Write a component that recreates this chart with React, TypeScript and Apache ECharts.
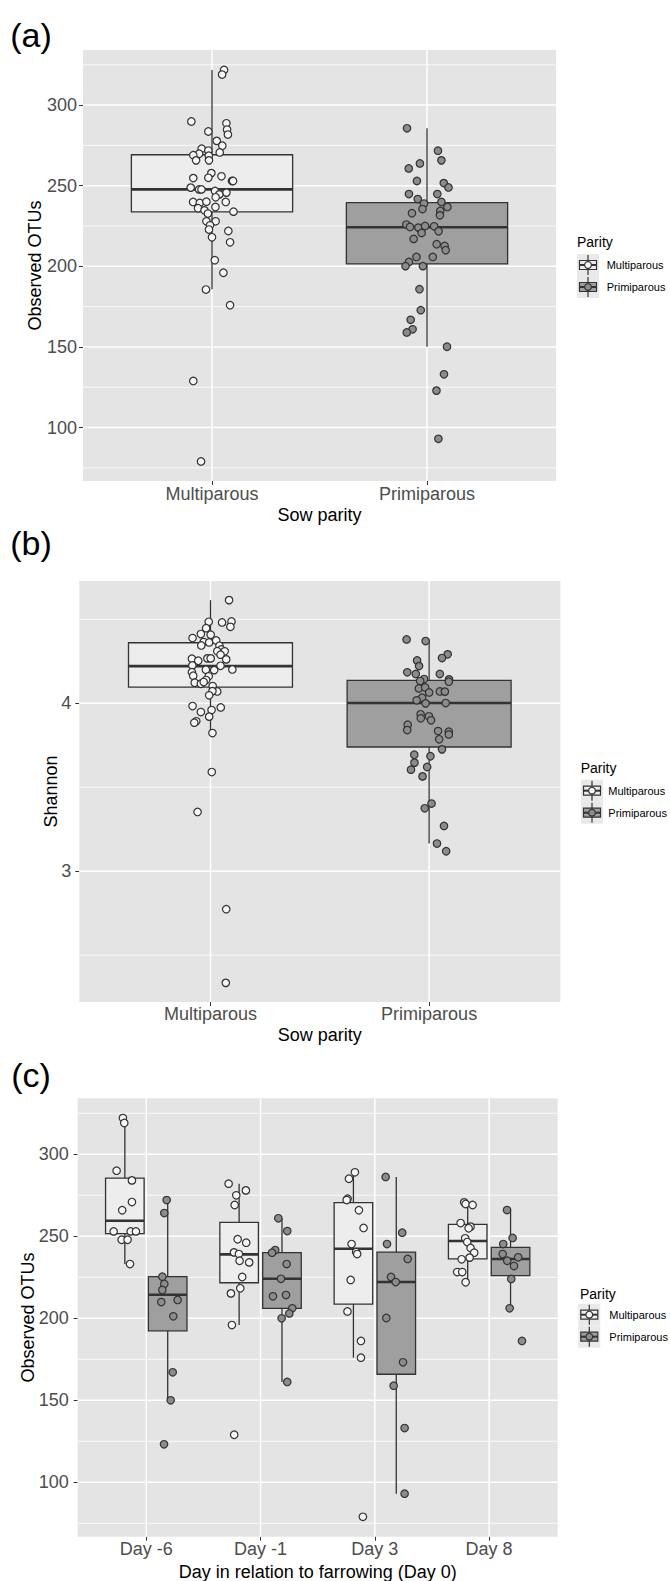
import React, { useEffect, useRef } from 'react';
import * as echarts from 'echarts';

// ---------- categories & ticks ----------
const parityCategories = ['Multiparous', 'Primiparous'];
const dayCategories = ['Day -6', 'Day -1', 'Day 3', 'Day 8'];
const otuTicks = [100, 150, 200, 250, 300];
const otuMinorLines = [75, 125, 175, 225, 275, 325];
const shannonTicks = [3, 4];
const shannonMinorLines = [2.5, 3.5, 4.5];

// ---------- panel (a): observed OTUs by parity ----------
// box stats: [lower whisker, Q1, median, Q3, upper whisker]
const otuBoxMulti = [185.8, 233.7, 247.7, 269.2, 321.8];
const otuBoxPrimi = [150.1, 201.5, 224.2, 239.5, 285.6];
const otuMulti = [321.8, 318.9, 289.8, 288.7, 284.8, 283.6, 281.7, 277.8, 274.8, 272.9, 271.8, 270.6, 269.8, 268.9, 268.6, 265.7, 265.7, 257.8, 254.9, 254.7, 255.8, 252.9, 252.9, 248.8, 247.7, 247.7, 246.7, 245.7, 244.6, 242.8, 239.9, 239.3, 240.1, 239.9, 236.0, 236.8, 234.7, 233.9, 232.7, 227.9, 227.9, 225.4, 222.8, 221.9, 218.0, 214.9, 203.8, 196.0, 185.6, 175.9, 128.9, 79.0];
const otuMultiJitter = [0.056, 0.047, -0.096, 0.067, 0.070, -0.017, 0.074, 0.022, 0.048, -0.048, -0.017, 0.036, -0.060, -0.087, -0.015, -0.074, -0.014, -0.003, -0.017, -0.087, 0.044, 0.093, 0.098, -0.099, -0.060, -0.049, 0.014, 0.067, 0.034, 0.017, -0.088, -0.057, -0.026, 0.064, -0.065, 0.016, -0.035, 0.100, -0.019, -0.026, 0.017, -0.009, -0.014, 0.076, 0, 0.084, 0.013, 0.053, -0.028, 0.084, -0.087, -0.051];
const otuPrimi = [285.6, 271.7, 265.7, 263.8, 260.7, 252.9, 251.6, 248.9, 244.8, 244.8, 241.7, 239.9, 238.9, 236.8, 235.5, 234.3, 232.9, 231.6, 225.9, 224.4, 224.0, 225.0, 224.8, 220.7, 221.7, 217.0, 213.7, 212.6, 210.0, 205.8, 205.8, 202.7, 200.1, 200.1, 185.8, 172.8, 166.8, 160.9, 159.0, 150.1, 133.0, 122.9, 93.0];
const otuPrimiJitter = [-0.093, 0.051, 0.067, -0.033, -0.085, -0.047, 0.078, 0.100, -0.084, 0.048, -0.043, 0.067, -0.014, 0.095, -0.021, 0.062, -0.070, 0.060, -0.096, -0.079, -0.040, -0.009, 0.033, -0.025, 0.054, -0.062, 0.045, 0.082, 0.087, -0.049, 0.027, -0.084, -0.100, -0.019, -0.035, -0.029, -0.076, -0.067, -0.094, 0.093, 0.079, 0.044, 0.053];

// ---------- panel (b): Shannon by parity ----------
const shBoxMulti = [3.823, 4.097, 4.222, 4.361, 4.615];
const shBoxPrimi = [3.165, 3.740, 4.002, 4.137, 4.381];
const shMulti = [4.615, 4.486, 4.482, 4.488, 4.456, 4.448, 4.413, 4.409, 4.389, 4.365, 4.363, 4.375, 4.345, 4.343, 4.321, 4.311, 4.310, 4.290, 4.266, 4.254, 4.268, 4.268, 4.262, 4.226, 4.224, 4.200, 4.198, 4.202, 4.186, 4.165, 4.161, 4.139, 4.123, 4.117, 4.127, 4.103, 4.071, 4.073, 4.048, 3.984, 3.976, 3.960, 3.948, 3.921, 3.893, 3.885, 3.823, 3.591, 3.353, 2.774, 2.335];
const shMultiJitter = [0.085, -0.008, 0.053, 0.096, 0.091, -0.020, -0.044, 0.001, -0.082, -0.031, -0.006, 0.026, -0.042, 0.041, 0.049, 0.031, 0.065, 0.046, -0.085, -0.056, -0.014, 0.001, 0.072, -0.083, 0.046, -0.021, 0.017, 0.100, -0.085, -0.079, -0.008, -0.020, -0.072, -0.044, -0.031, 0.010, 0.031, 0.009, -0.006, -0.082, 0.047, 0.005, -0.044, -0.006, -0.065, -0.074, 0.009, 0.006, -0.059, 0.072, 0.070];
const shPrimi = [4.381, 4.371, 4.292, 4.270, 4.256, 4.222, 4.185, 4.175, 4.175, 4.143, 4.145, 4.133, 4.129, 4.089, 4.095, 4.065, 4.071, 4.070, 4.034, 4.018, 4.000, 4.002, 3.935, 3.911, 3.923, 3.899, 3.873, 3.841, 3.835, 3.831, 3.815, 3.786, 3.726, 3.694, 3.685, 3.647, 3.621, 3.605, 3.565, 3.403, 3.375, 3.270, 3.165, 3.119];
const shPrimiJitter = [-0.103, -0.016, 0.085, 0.059, -0.055, -0.046, -0.100, -0.061, 0.049, 0.091, -0.023, -0.041, 0.090, -0.047, -0.018, 0, 0.049, 0.072, -0.032, -0.057, -0.016, 0.076, -0.039, -0.038, -0.001, 0.009, -0.098, -0.100, 0.041, 0.090, 0.090, 0.046, 0.059, -0.068, 0.006, -0.067, -0.009, -0.083, -0.030, 0.011, -0.020, 0.068, 0.036, 0.078];

// ---------- panel (c): observed OTUs by day and parity ----------
const dayBoxMulti = [
  [233.1, 251.6, 259.5, 285.5, 322.1],
  [196.0, 221.7, 239.0, 258.5, 282.1],
  [176.0, 208.7, 242.4, 270.5, 289.0],
  [222.0, 236.3, 247.1, 257.3, 270.7],
];
const dayBoxPrimi = [
  [150.0, 192.4, 214.4, 225.4, 272.1],
  [161.2, 206.1, 224.1, 240.0, 261.0],
  [93.1, 165.9, 222.1, 240.4, 286.2],
  [206.1, 226.0, 236.2, 243.3, 266.0],
];
const dayMulti = [
  [322.1, 319.1, 290.0, 284.1, 270.9, 265.9, 253.0, 253.0, 253.0, 247.9, 247.9, 233.1],
  [282.1, 278.0, 275.0, 269.1, 248.2, 246.1, 240.2, 239.2, 235.1, 234.1, 225.2, 218.3, 215.2, 195.9, 129.0],
  [289.0, 285.1, 272.9, 272.1, 265.9, 255.1, 245.3, 240.4, 239.2, 223.4, 204.2, 186.2, 176.0, 79.0],
  [270.7, 269.7, 269.1, 258.1, 255.9, 254.9, 248.8, 246.5, 242.9, 240.0, 237.0, 236.0, 228.2, 228.2, 222.0],
];
const dayMultiJitter = [
  [-0.017, -0.005, -0.072, 0.062, 0.062, -0.023, -0.098, 0.051, 0.097, -0.028, 0.024, 0.045],
  [-0.092, 0.059, -0.025, -0.039, -0.013, 0.062, -0.045, -0.002, 0.004, 0.088, 0.027, 0.010, -0.072, -0.063, -0.043],
  [0.013, -0.039, -0.051, -0.059, 0.048, 0.089, -0.016, 0.024, 0.033, -0.024, -0.052, 0.066, 0.066, 0.083],
  [-0.031, -0.018, 0.043, -0.062, 0.025, 0.008, -0.022, -0.004, 0.025, 0.057, 0.017, -0.053, -0.092, -0.048, -0.018],
];
const dayPrimi = [
  [272.1, 264.2, 225.4, 220.9, 217.3, 211.2, 209.9, 201.2, 167.1, 150.0, 123.2],
  [261.0, 253.2, 241.6, 240.0, 233.1, 224.1, 213.4, 214.2, 206.1, 203.0, 200.0, 161.2],
  [286.2, 252.2, 245.3, 236.2, 225.2, 222.1, 200.2, 173.2, 158.9, 133.1, 93.1],
  [266.0, 249.0, 245.3, 239.2, 237.2, 235.1, 231.9, 224.0, 206.1, 186.2],
];
const dayPrimiJitter = [
  [-0.009, -0.030, -0.047, -0.030, -0.047, 0.087, -0.056, 0.049, 0.044, 0.026, -0.032],
  [-0.032, 0.046, -0.059, -0.087, 0.041, -0.009, -0.079, 0.035, 0.090, 0.064, -0.003, 0.046],
  [-0.093, 0.052, -0.081, 0.100, -0.046, -0.005, -0.087, 0.059, -0.023, 0.073, 0.073],
  [-0.031, 0.018, -0.064, -0.069, 0.067, -0.029, 0.030, 0.006, -0.008, 0.100],
];

// ---------- styles ----------
const FONT = "'Liberation Sans', Arial, Helvetica, sans-serif";
const PANEL_BG = '#e4e4e4';
const INK = '#333333';
const boxFill = ['#ededed', '#9f9f9f'];
const pointFill = ['#f7f7f7', '#8c8c8c'];

function boxSeries(name: string, grid: number, data: number[][], width: number, fill: string) {
  return {
    type: 'custom',
    name,
    xAxisIndex: grid,
    yAxisIndex: grid,
    silent: true,
    z: 3,
    encode: { x: 0, y: [1, 2, 3, 4, 5] },
    data,
    renderItem: (params: any, api: any) => {
      const x = api.value(0);
      const lo = api.coord([x, api.value(1)]);
      const q1 = api.coord([x, api.value(2)]);
      const med = api.coord([x, api.value(3)]);
      const q3 = api.coord([x, api.value(4)]);
      const hi = api.coord([x, api.value(5)]);
      const w = api.size([width, 0])[0];
      const cx = lo[0];
      const line = { stroke: INK, lineWidth: 1.3 };
      return {
        type: 'group',
        children: [
          { type: 'line', shape: { x1: cx, y1: hi[1], x2: cx, y2: q3[1] }, style: line },
          { type: 'line', shape: { x1: cx, y1: q1[1], x2: cx, y2: lo[1] }, style: line },
          { type: 'rect', shape: { x: cx - w / 2, y: q3[1], width: w, height: q1[1] - q3[1] }, style: { fill, stroke: INK, lineWidth: 1.3 } },
          { type: 'line', shape: { x1: cx - w / 2, y1: med[1], x2: cx + w / 2, y2: med[1] }, style: { stroke: INK, lineWidth: 2.6 } },
        ],
      };
    },
  };
}

function gridLineSeries(grid: number, majorY: number[], minorY: number[], majorX: number[]) {
  const data: number[][] = [];
  minorY.forEach((v) => data.push([1, v]));
  majorY.forEach((v) => data.push([0, v]));
  majorX.forEach((v) => data.push([2, v]));
  return {
    type: 'custom',
    xAxisIndex: grid,
    yAxisIndex: grid,
    silent: true,
    z: 1,
    data,
    renderItem: (params: any, api: any) => {
      const cs = params.coordSys;
      const kind = api.value(0);
      const v = api.value(1);
      if (kind === 2) {
        const px = api.coord([v, 0])[0];
        return { type: 'line', shape: { x1: px, y1: cs.y, x2: px, y2: cs.y + cs.height }, style: { stroke: '#ffffff', lineWidth: 1.5 } };
      }
      const py = api.coord([1, v])[1];
      return {
        type: 'line',
        shape: { x1: cs.x, y1: py, x2: cs.x + cs.width, y2: py },
        style: { stroke: '#ffffff', lineWidth: kind === 0 ? 1.5 : 0.8 },
      };
    },
  };
}

function pointSeries(name: string, grid: number, data: number[][], fill: string) {
  return {
    type: 'scatter',
    name,
    xAxisIndex: grid,
    yAxisIndex: grid,
    silent: true,
    z: 5,
    symbol: 'circle',
    symbolSize: 7.5,
    itemStyle: { color: fill, borderColor: INK, borderWidth: 1.2, opacity: 1 },
    data,
  };
}

function jitterPoints(center: number, values: number[], jitter: number[]) {
  return values.map((v, i) => [center + (jitter[i] ?? 0), v]);
}

function legendGraphics(titleX: number, titleY: number, keyX: number, rowY: number, labelX: number) {
  const els: any[] = [];
  els.push({
    type: 'text', x: titleX, y: titleY,
    style: { text: 'Parity', fontSize: 14, fontFamily: FONT, fill: '#000', align: 'left', verticalAlign: 'middle', textAlign: 'left', textVerticalAlign: 'middle' },
  });
  parityCategories.forEach((name, i) => {
    const cy = rowY + i * 22;
    const cx = keyX + 11;
    els.push({ type: 'rect', shape: { x: keyX, y: cy - 11, width: 22, height: 22 }, style: { fill: '#e9e9e9' } });
    els.push({ type: 'line', shape: { x1: cx, y1: cy - 10, x2: cx, y2: cy + 10 }, style: { stroke: INK, lineWidth: 1.2 } });
    els.push({ type: 'rect', shape: { x: cx - 8.5, y: cy - 4.5, width: 17, height: 9 }, style: { fill: boxFill[i], stroke: INK, lineWidth: 1.2 } });
    els.push({ type: 'line', shape: { x1: cx - 8.5, y1: cy, x2: cx + 8.5, y2: cy }, style: { stroke: INK, lineWidth: 2 } });
    els.push({ type: 'circle', shape: { cx, cy, r: 3.4 }, style: { fill: pointFill[i], stroke: INK, lineWidth: 1.2 } });
    els.push({
      type: 'text', x: labelX, y: cy,
      style: { text: name, fontSize: 11, fontFamily: FONT, fill: '#000', align: 'left', verticalAlign: 'middle', textAlign: 'left', textVerticalAlign: 'middle' },
    });
  });
  return els;
}

function textEl(text: string, x: number, y: number, size: number, rotation = 0) {
  return {
    type: 'text', x, y, rotation,
    style: { text, fontSize: size, fontFamily: FONT, fill: '#000', align: 'center', verticalAlign: 'middle', textAlign: 'center', textVerticalAlign: 'middle' },
  };
}

function xAxisFor(grid: number, min: number, max: number, cats: string[], margin: number) {
  const vals = cats.map((_, i) => i + 1);
  return {
    type: 'value', gridIndex: grid, min, max,
    axisLine: { show: false },
    splitLine: { show: false },
    axisTick: { show: true, length: 4, customValues: vals, lineStyle: { color: INK, width: 1 } },
    axisLabel: {
      customValues: vals, margin, fontSize: 18, fontFamily: FONT, color: '#4d4d4d',
      formatter: (v: number) => cats[Math.round(v) - 1] ?? '',
    },
  };
}

function yAxisFor(grid: number, min: number, max: number, ticks: number[], margin: number) {
  return {
    type: 'value', gridIndex: grid, min, max,
    axisLine: { show: false },
    splitLine: { show: false },
    axisTick: { show: true, length: 4, customValues: ticks, lineStyle: { color: INK, width: 1 } },
    axisLabel: {
      customValues: ticks, margin, fontSize: 18, fontFamily: FONT, color: '#4d4d4d',
      formatter: (v: number) => String(v),
    },
  };
}

export default function App() {
  const ref = useRef<HTMLDivElement>(null);
  useEffect(() => {
    if (!ref.current) return;
    const chart = echarts.init(ref.current, undefined, { renderer: 'svg' });

    const boxW = 0.75;
    const dodge = 0.1875;
    const dodgedW = 0.3375;

    const series: any[] = [
      gridLineSeries(0, otuTicks, otuMinorLines, [1, 2]),
      gridLineSeries(1, shannonTicks, shannonMinorLines, [1, 2]),
      gridLineSeries(2, otuTicks, otuMinorLines, [1, 2, 3, 4]),
      boxSeries('Multiparous', 0, [[1, ...otuBoxMulti]], boxW, boxFill[0]),
      boxSeries('Primiparous', 0, [[2, ...otuBoxPrimi]], boxW, boxFill[1]),
      boxSeries('Multiparous', 1, [[1, ...shBoxMulti]], boxW, boxFill[0]),
      boxSeries('Primiparous', 1, [[2, ...shBoxPrimi]], boxW, boxFill[1]),
      boxSeries('Multiparous', 2, dayBoxMulti.map((b, i) => [i + 1 - dodge, ...b]), dodgedW, boxFill[0]),
      boxSeries('Primiparous', 2, dayBoxPrimi.map((b, i) => [i + 1 + dodge, ...b]), dodgedW, boxFill[1]),
      pointSeries('Multiparous', 0, jitterPoints(1, otuMulti, otuMultiJitter), pointFill[0]),
      pointSeries('Primiparous', 0, jitterPoints(2, otuPrimi, otuPrimiJitter), pointFill[1]),
      pointSeries('Multiparous', 1, jitterPoints(1, shMulti, shMultiJitter), pointFill[0]),
      pointSeries('Primiparous', 1, jitterPoints(2, shPrimi, shPrimiJitter), pointFill[1]),
      pointSeries('Multiparous', 2, dayMulti.flatMap((vals, i) => jitterPoints(i + 1 - dodge, vals, dayMultiJitter[i])), pointFill[0]),
      pointSeries('Primiparous', 2, dayPrimi.flatMap((vals, i) => jitterPoints(i + 1 + dodge, vals, dayPrimiJitter[i])), pointFill[1]),
    ];

    const graphicEls: any[] = [
      textEl('(a)', 31, 35, 34),
      textEl('(b)', 31, 543, 34),
      textEl('(c)', 31, 1075, 34),
      textEl('Observed OTUs', 34.5, 265.5, 18, Math.PI / 2),
      textEl('Shannon', 50.5, 791.5, 18, Math.PI / 2),
      textEl('Observed OTUs', 27.5, 1317.5, 18, Math.PI / 2),
      textEl('Sow parity', 319.5, 515, 18),
      textEl('Sow parity', 319.8, 1035, 18),
      textEl('Day in relation to farrowing (Day 0)', 317.7, 1571.5, 18),
      ...legendGraphics(577, 242, 577, 265, 606.7),
      ...legendGraphics(580.7, 768, 581, 790.7, 608.3),
      ...legendGraphics(580, 1294, 578.3, 1314.7, 609.3),
    ];

    chart.setOption({
      animation: false,
      backgroundColor: '#ffffff',
      grid: [
        { left: 83, top: 50, width: 473, height: 431, show: true, backgroundColor: PANEL_BG, borderWidth: 0 },
        { left: 79.3, top: 581, width: 481, height: 421, show: true, backgroundColor: PANEL_BG, borderWidth: 0 },
        { left: 77.7, top: 1098.3, width: 480, height: 438.4, show: true, backgroundColor: PANEL_BG, borderWidth: 0 },
      ],
      xAxis: [
        xAxisFor(0, 0.4, 2.6, parityCategories, 4),
        xAxisFor(1, 0.4, 2.6, parityCategories, 3),
        xAxisFor(2, 0.4, 4.6, dayCategories, 3.5),
      ],
      yAxis: [
        yAxisFor(0, 66.85, 334.15, otuTicks, 6),
        yAxisFor(1, 2.221, 4.729, shannonTicks, 8),
        yAxisFor(2, 66.85, 334.15, otuTicks, 9),
      ],
      series,
      graphic: { elements: graphicEls },
    });

    return () => chart.dispose();
  }, []);

  return <div ref={ref} style={{ position: 'absolute', left: 0, top: 0, width: 670, height: 1581 }} />;
}
